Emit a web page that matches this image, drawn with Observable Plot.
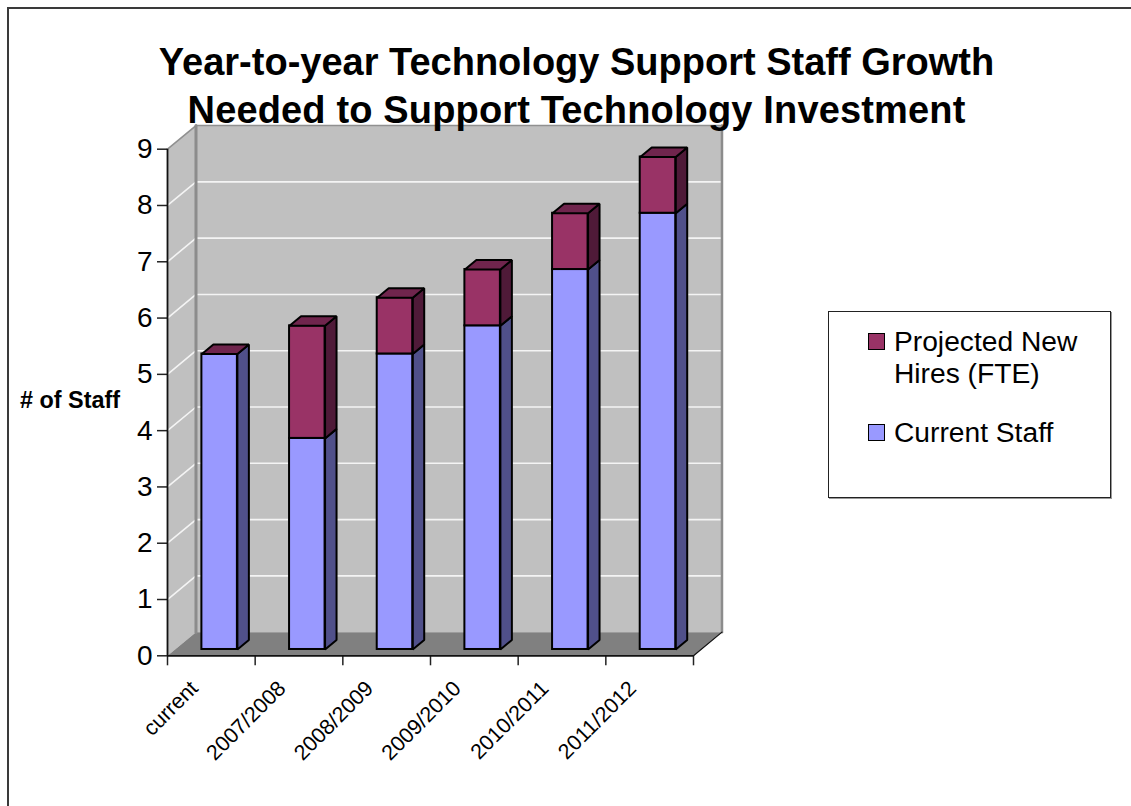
<!DOCTYPE html>
<html>
<head>
<meta charset="utf-8">
<script src="https://cdn.jsdelivr.net/npm/d3@7"></script>
<script src="https://cdn.jsdelivr.net/npm/@observablehq/plot@0.6"></script>
<style>
  html, body { margin: 0; padding: 0; background: #fff; overflow: hidden; }
  body { width: 1131px; height: 806px; position: relative; font-family: "Liberation Sans", Arial, sans-serif; color: #000; }
  #frame { position: absolute; left: 7px; top: 7px; right: -10px; bottom: -10px; border: 2px solid #3a3a3a; }
  #title { position: absolute; left: 0; top: 38px; width: 1153px; text-align: center; font-weight: bold; font-size: 38px; line-height: 48px; }
  #title .second { letter-spacing: 0.15px; }
  #ylabel { position: absolute; left: 20px; top: 386px; font-weight: bold; font-size: 23.4px; line-height: 28px; white-space: nowrap; }
  #legend { position: absolute; left: 828px; top: 311px; width: 281px; height: 185px; border: 1px solid #222; box-shadow: 1px 1px 0 #999; background: #fff; font-size: 28.2px; line-height: 32px; }
  #legend .row { position: absolute; left: 39px; display: flex; align-items: flex-start; white-space: nowrap; }
  #legend .swatch { width: 15px; height: 15px; border: 1.5px solid #000; margin-top: 8px; margin-right: 9px; flex: none; }
  #plot { position: absolute; left: 0; top: 0; width: 1131px; height: 806px; }
</style>
</head>
<body>
<div id="frame"></div>
<div id="plot"></div>
<div id="title">Year-to-year Technology Support Staff Growth<br><span class="second">Needed to Support Technology Investment</span></div>
<div id="ylabel"># of Staff</div>
<div id="legend"></div>
<script>
// Staffing by planning year
const categories = ["current", "2007/2008", "2008/2009", "2009/2010", "2010/2011", "2011/2012"];
const currentStaff = [5.25, 3.75, 5.25, 5.75, 6.75, 7.75];
const newHires = [0, 2, 1, 1, 1, 1];

const blue = {front: "#9999ff", side: "#50508a"};
const maroon = {front: "#993366", side: "#4f1a38", top: "#70254d"};

// Oblique projection: depth d (0 front, 1 back wall) shifts a point right and up in data units
const depthX = 0.325;
const depthY = 0.42;
const at = (x, y, d = 0) => ({x: x + d * depthX, y: y + d * depthY});

const barCentre = 0.508;
const barWidth = 0.405;
const barFront = 0.267;
const barBack = 0.67;

const poly = (points, options) =>
  Plot.line(points, {x: "x", y: "y", curve: "linear-closed", ...options});

const nCat = categories.length;
const yMax = 9;
const marks = [];

// Walls and floor
const wall = {fill: "#c0c0c0", stroke: "none"};
marks.push(poly([at(0, 0), at(0, 0, 1), at(0, yMax, 1), at(0, yMax)], wall));
marks.push(poly([at(0, 0, 1), at(nCat, 0, 1), at(nCat, yMax, 1), at(0, yMax, 1)], wall));
marks.push(poly([at(0, 0), at(nCat, 0), at(nCat, 0, 1), at(0, 0, 1)], {fill: "#808080", stroke: "none"}));

// Gridlines on both walls
const levels = d3.range(1, yMax);
for (const v of levels) {
  marks.push(Plot.line([at(0, v), at(0, v, 1), at(nCat, v, 1)], {x: "x", y: "y", stroke: "#f4f4f4", strokeWidth: 1.6}));
}

// Wall edges
marks.push(Plot.line([at(0, yMax), at(0, yMax, 1), at(nCat, yMax, 1), at(nCat, 0, 1)], {x: "x", y: "y", stroke: "#909090", strokeWidth: 1.6}));
marks.push(Plot.line([at(0, 0, 1), at(0, yMax, 1)], {x: "x", y: "y", stroke: "#8c8c8c", strokeWidth: 3}));
marks.push(Plot.line([at(nCat, 0, 1), at(nCat, yMax, 1)], {x: "x", y: "y", stroke: "#8c8c8c", strokeWidth: 2.5}));

// Bars, one stacked column per year, each segment with front, side and top faces
const edge = {stroke: "#000", strokeWidth: 2, strokeLinejoin: "miter"};
const segment = (i, lo, hi, colors, capColor) => {
  const l = i + barCentre - barWidth / 2;
  const r = i + barCentre + barWidth / 2;
  marks.push(poly([at(r, lo, barFront), at(r, lo, barBack), at(r, hi, barBack), at(r, hi, barFront)], {fill: colors.side, ...edge}));
  marks.push(Plot.rect([{lo, hi}], {
    x1: () => at(l, 0, barFront).x,
    x2: () => at(r, 0, barFront).x,
    y1: (d) => at(0, d.lo, barFront).y,
    y2: (d) => at(0, d.hi, barFront).y,
    fill: colors.front,
    ...edge
  }));
  if (capColor) {
    marks.push(poly([at(l, hi, barFront), at(r, hi, barFront), at(r, hi, barBack), at(l, hi, barBack)], {fill: capColor, ...edge}));
  }
};
categories.forEach((_, i) => {
  const total = currentStaff[i] + newHires[i];
  segment(i, 0, currentStaff[i], blue, newHires[i] === 0 ? maroon.top : null);
  if (newHires[i] > 0) segment(i, currentStaff[i], total, maroon, maroon.top);
});

// Axes
marks.push(Plot.axisY({
  ticks: d3.range(0, yMax + 1), tickSize: 10, tickPadding: 5, fontSize: 28,
  label: null, stroke: "#222", strokeWidth: 1.5
}));
marks.push(Plot.axisX({
  ticks: d3.range(0, nCat + 1), tickSize: 10, tickFormat: () => "", label: null, stroke: "#222", strokeWidth: 1.5
}));
marks.push(Plot.axisX({
  ticks: categories.map((_, i) => i + 0.5), tickSize: 0, tickRotate: -45, tickPadding: 29,
  tickFormat: (v) => categories[v - 0.5], fontSize: 21.5, label: null, dx: -17
}));
marks.push(Plot.ruleX([0], {y1: 0, y2: yMax, stroke: "#111", strokeWidth: 1.8}));
marks.push(Plot.ruleY([0], {x1: 0, x2: nCat, stroke: "#111", strokeWidth: 1.8}));
marks.push(Plot.line([at(nCat, 0), at(nCat, 0, 1)], {x: "x", y: "y", stroke: "#111", strokeWidth: 1.2}));

const chart = Plot.plot({
  width: 1131,
  height: 806,
  marginLeft: 167,
  marginRight: 438,
  marginTop: 148.7,
  marginBottom: 150.7,
  style: {fontFamily: "'Liberation Sans', Arial, sans-serif", background: "transparent", overflow: "visible", color: "#000"},
  x: {domain: [0, nCat], axis: null},
  y: {domain: [0, yMax], axis: null},
  marks
});
document.getElementById("plot").append(chart);

// Legend box
const legendRows = [
  {label: "Projected New<br>Hires (FTE)", color: maroon.front, top: 13},
  {label: "Current Staff", color: blue.front, top: 104}
];
document.getElementById("legend").innerHTML = legendRows.map((r) =>
  `<div class="row" style="top:${r.top}px"><span class="swatch" style="background:${r.color}"></span><span>${r.label}</span></div>`
).join("");
</script>
</body>
</html>
